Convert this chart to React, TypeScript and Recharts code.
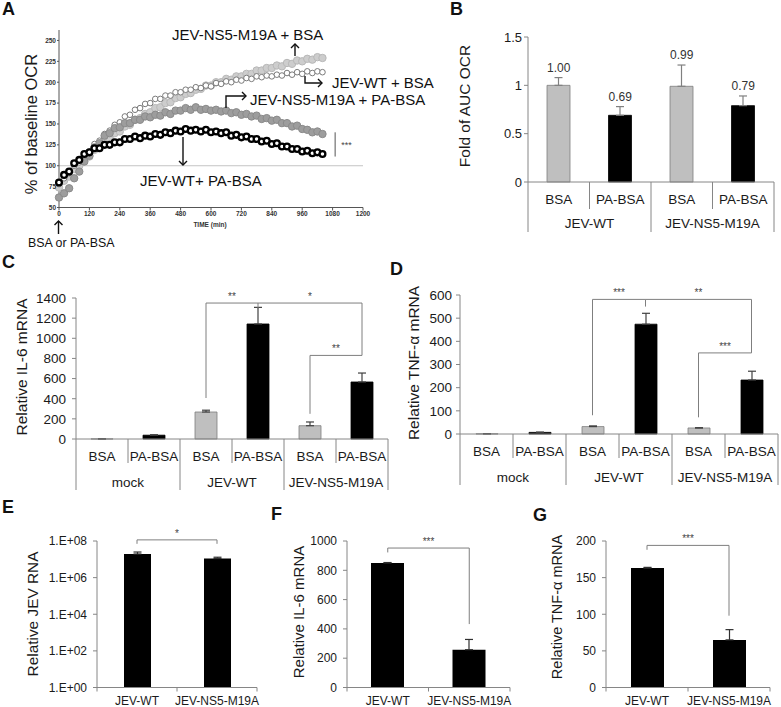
import React from 'react';
import {
  ScatterChart,
  Scatter,
  BarChart,
  Bar,
  ComposedChart,
  Line,
  XAxis,
  YAxis,
  ReferenceLine,
  ErrorBar,
  Cell,
  LabelList,
} from 'recharts';

const FONT = '"Liberation Sans", Arial, sans-serif';
const AXIS = '#868686';
const TXT = '#1a1a1a';
const GRAY = '#bfbfbf';
const BRACKET = '#7f7f7f';

// ---------- A: OCR time course (% of baseline)
const TIME_MIN = [
  0, 20, 40, 60, 80, 100, 120, 140, 160, 180, 200, 220, 240, 260, 280, 300, 320, 340, 360, 380,
  400, 420, 440, 460, 480, 500, 520, 540, 560, 580, 600, 620, 640, 660, 680, 700, 720, 740, 760,
  780, 800, 820, 840, 860, 880, 900, 920, 940, 960, 980, 1000, 1020, 1040,
];
const OCR_NS5_BSA = [
  74, 82, 87, 96, 100, 107, 111, 119, 123, 131, 133, 139, 141, 147, 149, 155, 157, 162, 164, 169,
  170, 175, 176, 181, 182, 186, 187, 191, 192, 196, 196, 200, 200, 204, 203, 207, 207, 210, 210,
  214, 214, 217, 217, 220, 219, 223, 222, 226, 225, 228, 227, 230, 229,
];
const OCR_WT_BSA = [
  78, 85, 91, 100, 104, 112, 117, 126, 130, 138, 142, 149, 152, 159, 161, 167, 169, 174, 175, 180,
  180, 184, 184, 188, 188, 191, 191, 194, 193, 196, 195, 199, 198, 201, 200, 203, 202, 205, 204,
  207, 206, 208, 207, 209, 208, 211, 209, 212, 210, 213, 211, 213, 212,
];
const OCR_NS5_PA = [
  62, 67, 73, 85, 93, 105, 112, 122, 127, 136, 139, 145, 146, 151, 151, 155, 155, 159, 158, 161,
  160, 164, 162, 166, 166, 169, 167, 170, 167, 168, 166, 167, 165, 166, 163, 164, 161, 162, 159,
  160, 156, 157, 154, 155, 151, 151, 147, 148, 144, 143, 140, 141, 138,
];
const OCR_WT_PA = [
  80, 89, 93, 103, 107, 114, 116, 121, 121, 125, 125, 128, 128, 132, 132, 135, 133, 136, 135, 138,
  137, 140, 139, 142, 141, 144, 142, 143, 141, 143, 140, 141, 139, 140, 136, 137, 134, 135, 132,
  132, 129, 130, 126, 127, 123, 123, 120, 120, 117, 118, 115, 116, 114,
];
const TIME_TICKS = [0, 120, 240, 360, 480, 600, 720, 840, 960, 1080, 1200];
const OCR_TICKS = [50, 75, 100, 125, 150, 175, 200, 225, 250];

// ---------- B: fold of AUC OCR
const AUC_CATS = ['WT BSA', 'WT PA-BSA', 'M19A BSA', 'M19A PA-BSA'];
const AUC_SUB = ['BSA', 'PA-BSA', 'BSA', 'PA-BSA'];
const AUC_GROUPS = ['JEV-WT', 'JEV-NS5-M19A'];
const AUC_VALUES = [1.0, 0.69, 0.99, 0.79];
const AUC_ERR = [0.08, 0.09, 0.22, 0.1];
const AUC_LABELS = ['1.00', '0.69', '0.99', '0.79'];

// ---------- C / D: IL-6 and TNF-a mRNA
const TREAT_CATS = [
  'mock BSA',
  'mock PA-BSA',
  'JEV-WT BSA',
  'JEV-WT PA-BSA',
  'JEV-NS5-M19A BSA',
  'JEV-NS5-M19A PA-BSA',
];
const TREAT_SUB = ['BSA', 'PA-BSA', 'BSA', 'PA-BSA', 'BSA', 'PA-BSA'];
const VIRUS_GROUPS = ['mock', 'JEV-WT', 'JEV-NS5-M19A'];
const IL6_VALUES = [1, 38, 268, 1142, 132, 566];
const IL6_ERR = [0, 4, 18, 165, 37, 89];
const TNF_VALUES = [1, 7, 32, 474, 26, 233];
const TNF_ERR = [0, 1, 3, 47, 1, 38];

// ---------- E / F / G: WT vs M19A
const VIRUS_CATS = ['JEV-WT', 'JEV-NS5-M19A'];
const JEV_RNA = [1.95e7, 1.1e7];
const JEV_RNA_ERR = [0.55e7, 0.2e7];
const IL6_VIRUS = [850, 258];
const IL6_VIRUS_ERR = [3, 70];
const TNF_VIRUS = [163, 65];
const TNF_VIRUS_ERR = [1, 14];

type Seg = { x1: string; y1: number; x2: string; y2: number; mark?: string };

const IL6_BRACKETS: Seg[] = [
  { x1: 'JEV-WT BSA', y1: 407, x2: 'JEV-WT BSA', y2: 1350 },
  { x1: 'JEV-WT BSA', y1: 1350, x2: 'JEV-WT PA-BSA', y2: 1350, mark: '**' },
  { x1: 'JEV-WT PA-BSA', y1: 1350, x2: 'JEV-NS5-M19A PA-BSA', y2: 1350, mark: '*' },
  { x1: 'JEV-WT PA-BSA', y1: 1350, x2: 'JEV-WT PA-BSA', y2: 1290 },
  { x1: 'JEV-NS5-M19A PA-BSA', y1: 1350, x2: 'JEV-NS5-M19A PA-BSA', y2: 830 },
  { x1: 'JEV-NS5-M19A BSA', y1: 830, x2: 'JEV-NS5-M19A PA-BSA', y2: 830, mark: '**' },
  { x1: 'JEV-NS5-M19A BSA', y1: 830, x2: 'JEV-NS5-M19A BSA', y2: 250 },
];
const TNF_BRACKETS: Seg[] = [
  { x1: 'JEV-WT BSA', y1: 81, x2: 'JEV-WT BSA', y2: 581 },
  { x1: 'JEV-WT BSA', y1: 581, x2: 'JEV-WT PA-BSA', y2: 581, mark: '***' },
  { x1: 'JEV-WT PA-BSA', y1: 581, x2: 'JEV-NS5-M19A PA-BSA', y2: 581, mark: '**' },
  { x1: 'JEV-WT PA-BSA', y1: 581, x2: 'JEV-WT PA-BSA', y2: 550 },
  { x1: 'JEV-NS5-M19A PA-BSA', y1: 581, x2: 'JEV-NS5-M19A PA-BSA', y2: 350 },
  { x1: 'JEV-NS5-M19A BSA', y1: 350, x2: 'JEV-NS5-M19A PA-BSA', y2: 350, mark: '***' },
  { x1: 'JEV-NS5-M19A BSA', y1: 350, x2: 'JEV-NS5-M19A BSA', y2: 72 },
];
const RNA_BRACKETS: Seg[] = [
  { x1: 'JEV-WT', y1: 7e7, x2: 'JEV-WT', y2: 1.15e8 },
  { x1: 'JEV-WT', y1: 1.15e8, x2: 'JEV-NS5-M19A', y2: 1.15e8, mark: '*' },
  { x1: 'JEV-NS5-M19A', y1: 1.15e8, x2: 'JEV-NS5-M19A', y2: 7e7 },
];
const IL6V_BRACKETS: Seg[] = [
  { x1: 'JEV-WT', y1: 922, x2: 'JEV-WT', y2: 952 },
  { x1: 'JEV-WT', y1: 952, x2: 'JEV-NS5-M19A', y2: 952, mark: '***' },
  { x1: 'JEV-NS5-M19A', y1: 952, x2: 'JEV-NS5-M19A', y2: 433 },
];
const TNFV_BRACKETS: Seg[] = [
  { x1: 'JEV-WT', y1: 188, x2: 'JEV-WT', y2: 194 },
  { x1: 'JEV-WT', y1: 194, x2: 'JEV-NS5-M19A', y2: 194, mark: '***' },
  { x1: 'JEV-NS5-M19A', y1: 194, x2: 'JEV-NS5-M19A', y2: 98 },
];

const ocrRows = (vals: number[]) => TIME_MIN.map((t, i) => ({ t, v: vals[i] }));

const barRows = (cats: string[], vals: number[], errs: number[]) =>
  cats.map((cat, i) => ({ cat, value: vals[i], err: [0, errs[i]], top: vals[i] + errs[i] }));

const markLabel = (mark: string, fontSize: number) => (lp: any) => {
  const vb = lp.viewBox || {};
  return (
    <text x={(vb.x ?? 0) + (vb.width ?? 0) / 2} y={(vb.y ?? 0) - 3} textAnchor="middle" fontSize={fontSize} fill="#444">
      {mark}
    </text>
  );
};

const brackets = (segs: Seg[], fontSize = 10) =>
  segs.map((s, i) => (
    <ReferenceLine
      key={'br' + i}
      segment={[
        { x: s.x1, y: s.y1 },
        { x: s.x2, y: s.y2 },
      ]}
      stroke={BRACKET}
      strokeWidth={1}
      ifOverflow="visible"
      label={s.mark ? { position: 'top', content: markLabel(s.mark, fontSize) } : undefined}
    />
  ));

// two-row category axis (Excel style)
function groupedTick(
  subs: string[],
  groups: string[],
  o: { row1: number; row2: number; l1: number; l2: number; size: number; half: number },
) {
  return (props: any) => {
    const { x, y, payload } = props;
    const i: number = payload.index;
    const half: number = payload.offset || o.half;
    const start = i % 2 === 0;
    return (
      <g>
        <text x={x} y={y + o.row1} textAnchor="middle" dominantBaseline="central" fontSize={o.size} fill={TXT}>
          {subs[i]}
        </text>
        <line x1={x - half} y1={y} x2={x - half} y2={y + (start ? o.l2 : o.l1)} stroke={AXIS} />
        {i === subs.length - 1 && <line x1={x + half} y1={y} x2={x + half} y2={y + o.l2} stroke={AXIS} />}
        {start && (
          <text x={x + half} y={y + o.row2} textAnchor="middle" dominantBaseline="central" fontSize={o.size} fill={TXT}>
            {groups[i / 2]}
          </text>
        )}
      </g>
    );
  };
}

function simpleTick(labels: string[], o: { row: number; size: number; half: number }) {
  return (props: any) => {
    const { x, y, payload } = props;
    const i: number = payload.index;
    const half: number = payload.offset || o.half;
    return (
      <g>
        <text x={x} y={y + o.row} textAnchor="middle" dominantBaseline="central" fontSize={o.size} fill={TXT}>
          {labels[i]}
        </text>
        <line x1={x - half} y1={y} x2={x - half} y2={y + 4} stroke={AXIS} />
        {i === labels.length - 1 && <line x1={x + half} y1={y} x2={x + half} y2={y + 4} stroke={AXIS} />}
      </g>
    );
  };
}

const dot = (fill: string, stroke: string, r: number, sw = 1) => (p: any) =>
  <circle cx={p.cx} cy={p.cy} r={r} fill={fill} stroke={stroke} strokeWidth={sw} />;

const OcrPanel = () => (
  <ScatterChart width={400} height={250} margin={{ top: 30, right: 37, bottom: 0, left: 0 }}>
    <XAxis
      type="number"
      dataKey="t"
      domain={[0, 1200]}
      ticks={TIME_TICKS}
      interval={0}
      height={42.5}
      tickSize={3}
      tickMargin={1}
      axisLine={{ stroke: '#555' }}
      tickLine={{ stroke: '#555' }}
      tick={{ fontSize: 6.5, fontWeight: 'bold', fill: '#333' }}
    />
    <YAxis
      type="number"
      dataKey="v"
      domain={[50, 262.5]}
      ticks={OCR_TICKS}
      interval={0}
      allowDataOverflow
      width={59}
      tickSize={2}
      tickMargin={1}
      axisLine={{ stroke: '#555' }}
      tickLine={{ stroke: '#555' }}
      tick={{ fontSize: 6.5, fontWeight: 'bold', fill: '#333' }}
    />
    <ReferenceLine y={100} stroke="#c4c4c4" />
    <Scatter data={ocrRows(OCR_NS5_BSA)} isAnimationActive={false} shape={dot('#cdcdcd', '#b8b8b8', 3.7)} />
    <Scatter data={ocrRows(OCR_WT_BSA)} isAnimationActive={false} shape={dot('#ffffff', '#7a7a7a', 2.8)} />
    <Scatter data={ocrRows(OCR_NS5_PA)} isAnimationActive={false} shape={dot('#9d9d9d', '#8a8a8a', 3.7)} />
    <Scatter data={ocrRows(OCR_WT_PA)} isAnimationActive={false} shape={dot('#ffffff', '#000000', 2.9, 2.3)} />
    <ReferenceLine
      segment={[
        { x: 1090, y: 140 },
        { x: 1090, y: 111 },
      ]}
      stroke="#555"
      label={{ value: '***', position: 'right', offset: 6, fontSize: 9, fill: '#444' }}
    />
  </ScatterChart>
);

const AucPanel = () => {
  const rows = barRows(AUC_CATS, AUC_VALUES, AUC_ERR).map((r, i) => ({ ...r, label: AUC_LABELS[i] }));
  return (
    <ComposedChart width={381} height={250} data={rows} margin={{ top: 37, right: 7, bottom: 0, left: 0 }}>
      <XAxis
        dataKey="cat"
        type="category"
        interval={0}
        height={68}
        tickSize={0}
        tickMargin={0}
        axisLine={{ stroke: AXIS }}
        tick={groupedTick(AUC_SUB, AUC_GROUPS, { row1: 17, row2: 41, l1: 27, l2: 50, size: 13.5, half: 31 })}
      />
      <YAxis
        type="number"
        domain={[0, 1.5]}
        ticks={[0, 0.5, 1, 1.5]}
        interval={0}
        width={128}
        tickSize={4}
        tickMargin={2}
        axisLine={{ stroke: AXIS }}
        tickLine={{ stroke: AXIS }}
        tick={{ fontSize: 13, fill: TXT }}
      />
      <Bar dataKey="value" barSize={23} isAnimationActive={false}>
        {rows.map((r, i) => (
          <Cell key={r.cat} fill={i % 2 === 0 ? GRAY : '#000'} stroke={i % 2 === 0 ? '#7f7f7f' : '#000'} strokeWidth={0.8} />
        ))}
        <ErrorBar dataKey="err" width={4} stroke="#808080" strokeWidth={1.2} direction="y" isAnimationActive={false} />
      </Bar>
      <Line dataKey="top" stroke="none" dot={false} activeDot={false} isAnimationActive={false}>
        <LabelList dataKey="label" position="top" offset={6} fontSize={12} fill="#333" />
      </Line>
    </ComposedChart>
  );
};

const TreatPanel = (p: {
  values: number[];
  errs: number[];
  max: number;
  ticks: number[];
  segs: Seg[];
  width: number;
  top: number;
  yWidth: number;
  right: number;
  xHeight: number;
  tickMargin: number;
}) => {
  const rows = barRows(TREAT_CATS, p.values, p.errs);
  return (
    <BarChart width={p.width} height={250} data={rows} margin={{ top: p.top, right: p.right, bottom: 0, left: 0 }}>
      <XAxis
        dataKey="cat"
        type="category"
        interval={0}
        height={p.xHeight}
        tickSize={0}
        tickMargin={0}
        axisLine={{ stroke: AXIS }}
        tick={groupedTick(TREAT_SUB, VIRUS_GROUPS, { row1: 17, row2: 43, l1: 24, l2: 51, size: 13.5, half: 26 })}
      />
      <YAxis
        type="number"
        domain={[0, p.max]}
        ticks={p.ticks}
        interval={0}
        width={p.yWidth}
        tickSize={4}
        tickMargin={p.tickMargin}
        axisLine={{ stroke: AXIS }}
        tickLine={{ stroke: AXIS }}
        tick={{ fontSize: 13.5, fill: TXT }}
      />
      <Bar dataKey="value" barSize={22} isAnimationActive={false}>
        {rows.map((r, i) => (
          <Cell key={r.cat} fill={i % 2 === 0 ? GRAY : '#000'} stroke={i % 2 === 0 ? '#7f7f7f' : '#000'} strokeWidth={0.8} />
        ))}
        <ErrorBar dataKey="err" width={4} stroke="#404040" strokeWidth={1.2} direction="y" isAnimationActive={false} />
      </Bar>
      {brackets(p.segs, 10)}
    </BarChart>
  );
};

const VirusPanel = (p: {
  values: number[];
  errs: number[];
  width: number;
  yWidth: number;
  right: number;
  barSize: number;
  log?: boolean;
  max: number;
  ticks: number[];
  segs: Seg[];
  half: number;
}) => {
  const rows = barRows(VIRUS_CATS, p.values, p.errs);
  const fmt = (v: number) => (p.log ? `1.E+${String(Math.round(Math.log10(v))).padStart(2, '0')}` : String(v));
  return (
    <BarChart width={p.width} height={207} data={rows} margin={{ top: 41, right: p.right, bottom: 0, left: 0 }}>
      <XAxis
        dataKey="cat"
        type="category"
        interval={0}
        height={19.5}
        tickSize={0}
        tickMargin={0}
        axisLine={{ stroke: AXIS }}
        tick={simpleTick(VIRUS_CATS, { row: 13, size: 12, half: p.half })}
      />
      <YAxis
        type="number"
        scale={p.log ? 'log' : 'auto'}
        domain={p.log ? [1, p.max] : [0, p.max]}
        allowDataOverflow
        ticks={p.ticks}
        interval={0}
        tickFormatter={fmt}
        width={p.yWidth}
        tickSize={4}
        tickMargin={6}
        axisLine={{ stroke: AXIS }}
        tickLine={{ stroke: AXIS }}
        tick={{ fontSize: 12, fill: TXT }}
      />
      <Bar dataKey="value" barSize={p.barSize} fill="#000" isAnimationActive={false}>
        <ErrorBar dataKey="err" width={4} stroke="#303030" strokeWidth={1.2} direction="y" isAnimationActive={false} />
      </Bar>
      {brackets(p.segs, 10)}
    </BarChart>
  );
};

const VText = ({ x, y, size, children }: { x: number; y: number; size: number; children: React.ReactNode }) => (
  <text transform={`translate(${x},${y}) rotate(-90)`} textAnchor="middle" dominantBaseline="central" fontSize={size} fill={TXT}>
    {children}
  </text>
);

const head = (x: number, y: number, dir: 'up' | 'down' | 'right') => {
  const pts =
    dir === 'up'
      ? `${x - 4},${y + 4} ${x},${y} ${x + 4},${y + 4}`
      : dir === 'down'
        ? `${x - 4},${y - 4} ${x},${y} ${x + 4},${y - 4}`
        : `${x - 4},${y - 4} ${x},${y} ${x - 4},${y + 4}`;
  return <polyline points={pts} fill="none" stroke="#111" strokeWidth={1.4} />;
};

const Overlay = () => (
  <svg width={781} height={707} style={{ position: 'absolute', left: 0, top: 0, pointerEvents: 'none' }}>
    <g fontWeight="bold" fontSize={18} fill="#111">
      <text x={2} y={15}>A</text>
      <text x={450} y={15}>B</text>
      <text x={2} y={268}>C</text>
      <text x={390} y={275}>D</text>
      <text x={2} y={513}>E</text>
      <text x={271} y={520}>F</text>
      <text x={533} y={521}>G</text>
    </g>

    <VText x={31} y={124} size={16.5}>% of baseline OCR</VText>
    <VText x={464} y={106} size={15.5}>Fold of AUC OCR</VText>
    <VText x={21} y={367} size={15.5}>Relative IL-6 mRNA</VText>
    <VText x={413} y={363} size={15.5}>Relative TNF-α mRNA</VText>
    <VText x={32} y={614} size={15.4}>Relative JEV RNA</VText>
    <VText x={298} y={612} size={15}>Relative IL-6 mRNA</VText>
    <VText x={557} y={607} size={14.5}>Relative TNF-α mRNA</VText>

    <text x={210} y={227} textAnchor="middle" fontSize={6.5} fontWeight="bold" fill="#333">TIME (min)</text>

    <g fontSize={15} fill="#111">
      <text x={172} y={39.5}>JEV-NS5-M19A + BSA</text>
      <text x={332} y={87.5}>JEV-WT + BSA</text>
      <text x={250} y={104.5}>JEV-NS5-M19A + PA-BSA</text>
      <text x={140} y={186}>JEV-WT+ PA-BSA</text>
    </g>
    <g stroke="#111" strokeWidth={1.4} fill="none">
      <line x1={295} y1={56} x2={295} y2={44} />
      <polyline points="305,76 305,83 322,83" />
      <polyline points="226,108 226,96 246,96" />
      <line x1={183} y1={137} x2={183} y2={165} />
      <line x1={58.5} y1={234} x2={58.5} y2={221} />
    </g>
    {head(295, 44, 'up')}
    {head(322, 83, 'right')}
    {head(246, 96, 'right')}
    {head(183, 165, 'down')}
    {head(58.5, 221, 'up')}
    <text x={28} y={247} fontSize={12.4} fill="#111">BSA or PA-BSA</text>
  </svg>
);

export default function App() {
  return (
    <div
      style={{
        position: 'absolute',
        left: 0,
        top: 0,
        width: 781,
        height: 707,
        background: '#fff',
        fontFamily: FONT,
        overflow: 'hidden',
      }}
    >
      <div style={{ position: 'absolute', left: 0, top: 0 }}>
        <OcrPanel />
      </div>
      <div style={{ position: 'absolute', left: 400, top: 0 }}>
        <AucPanel />
      </div>
      <div style={{ position: 'absolute', left: 0, top: 250 }}>
        <TreatPanel
          values={IL6_VALUES}
          errs={IL6_ERR}
          max={1400}
          ticks={[0, 200, 400, 600, 800, 1000, 1200, 1400]}
          segs={IL6_BRACKETS}
          width={390}
          top={48}
          yWidth={76}
          right={2}
          xHeight={61}
          tickMargin={6}
        />
      </div>
      <div style={{ position: 'absolute', left: 390, top: 250 }}>
        <TreatPanel
          values={TNF_VALUES}
          errs={TNF_ERR}
          max={600}
          ticks={[0, 100, 200, 300, 400, 500, 600]}
          segs={TNF_BRACKETS}
          width={391}
          top={45}
          yWidth={70}
          right={3}
          xHeight={66}
          tickMargin={4}
        />
      </div>
      <div style={{ position: 'absolute', left: 0, top: 500 }}>
        <VirusPanel
          values={JEV_RNA}
          errs={JEV_RNA_ERR}
          width={270}
          yWidth={97}
          right={13}
          barSize={27}
          log
          max={1e8}
          ticks={[1, 1e2, 1e4, 1e6, 1e8]}
          segs={RNA_BRACKETS}
          half={40}
        />
      </div>
      <div style={{ position: 'absolute', left: 260, top: 500 }}>
        <VirusPanel
          values={IL6_VIRUS}
          errs={IL6_VIRUS_ERR}
          width={260}
          yWidth={87}
          right={10}
          barSize={33}
          max={1000}
          ticks={[0, 200, 400, 600, 800, 1000]}
          segs={IL6V_BRACKETS}
          half={41}
        />
      </div>
      <div style={{ position: 'absolute', left: 520, top: 500 }}>
        <VirusPanel
          values={TNF_VIRUS}
          errs={TNF_VIRUS_ERR}
          width={261}
          yWidth={86}
          right={11}
          barSize={33}
          max={200}
          ticks={[0, 50, 100, 150, 200]}
          segs={TNFV_BRACKETS}
          half={41}
        />
      </div>
      <Overlay />
    </div>
  );
}
